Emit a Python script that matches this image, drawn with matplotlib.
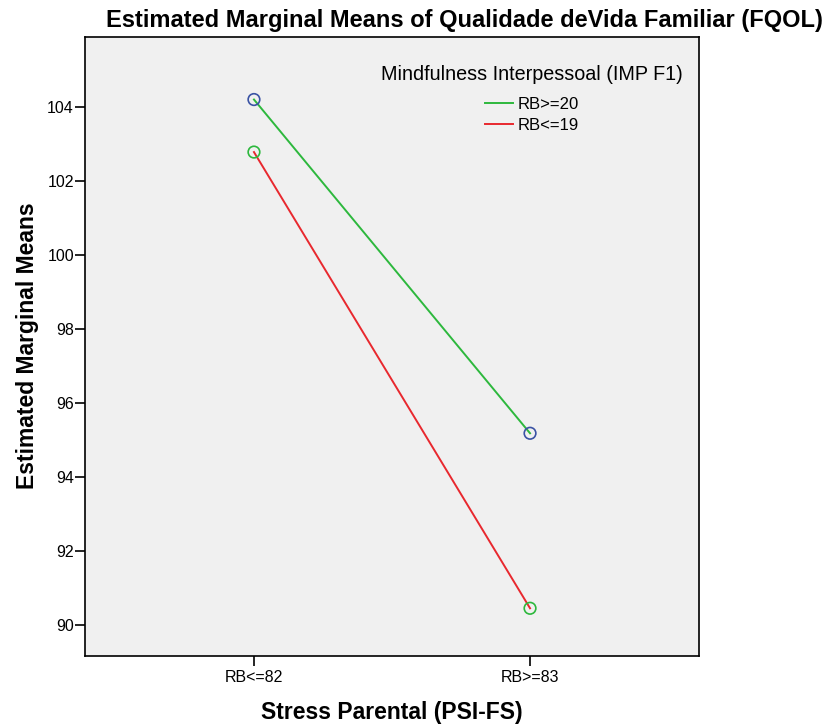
import matplotlib
matplotlib.use("Agg")
import matplotlib.pyplot as plt

# data
categories = ["RB<=82", "RB>=83"]
series_names = ["RB>=20", "RB<=19"]
high_imp = [104.2, 95.18]
low_imp = [102.78, 90.45]
y_ticks = [90, 92, 94, 96, 98, 100, 102, 104]

plt.rcParams["font.family"] = ["Liberation Sans", "DejaVu Sans"]

W, H = 827, 727
fig = plt.figure(figsize=(W / 100, H / 100), dpi=100)
ax = fig.add_axes([85 / W, 1 - 656 / H, 614 / W, 619 / H])
ax.set_facecolor("#f0f0f0")

x = list(range(len(categories)))
ax.plot(x, high_imp, color="#2db83d", lw=1.4, label=series_names[0], zorder=2)
ax.plot(x, low_imp, color="#e8282e", lw=1.4, label=series_names[1], zorder=2)
ax.scatter(x, high_imp, s=70, facecolors="none", edgecolors="#3a53a4", lw=1.2, zorder=3)
ax.scatter(x, low_imp, s=70, facecolors="none", edgecolors="#2db83d", lw=1.2, zorder=3)

ax.set_xlim(-0.612, 1.612)
ax.set_ylim(89.16, 105.89)
ax.set_xticks(x)
ax.set_xticklabels(categories)
ax.set_yticks(y_ticks)
ax.tick_params(direction="out", length=7, width=1.2, labelsize=11.5)
ax.tick_params(axis="y", pad=1)
ax.tick_params(axis="x", pad=3)
for sp in ax.spines.values():
    sp.set_linewidth(1.2)

# titles and axis labels
fig.text(464 / W, 1 - 20 / H, "Estimated Marginal Means of Qualidade deVida Familiar (FQOL)",
         fontsize=17, fontweight="bold", ha="center", va="center")
fig.text(392 / W, 1 - 712 / H, "Stress Parental (PSI-FS)",
         fontsize=16.5, fontweight="bold", ha="center", va="center")
fig.text(28 / W, 1 - 346 / H, "Estimated Marginal Means",
         fontsize=16.5, fontweight="bold", ha="center", va="center", rotation=90)

# legend
fig.text(531.5 / W, 1 - 74 / H, "Mindfulness Interpessoal (IMP F1)",
         fontsize=14.2, ha="center", va="center")
ax.legend(loc="upper left", bbox_to_anchor=(485 / W, 1 - 97 / H),
          bbox_transform=fig.transFigure, frameon=False, fontsize=12,
          borderpad=0, borderaxespad=0, handlelength=1.65, handletextpad=0.3,
          labelspacing=0.33)

fig.savefig("out.png", dpi=100)
